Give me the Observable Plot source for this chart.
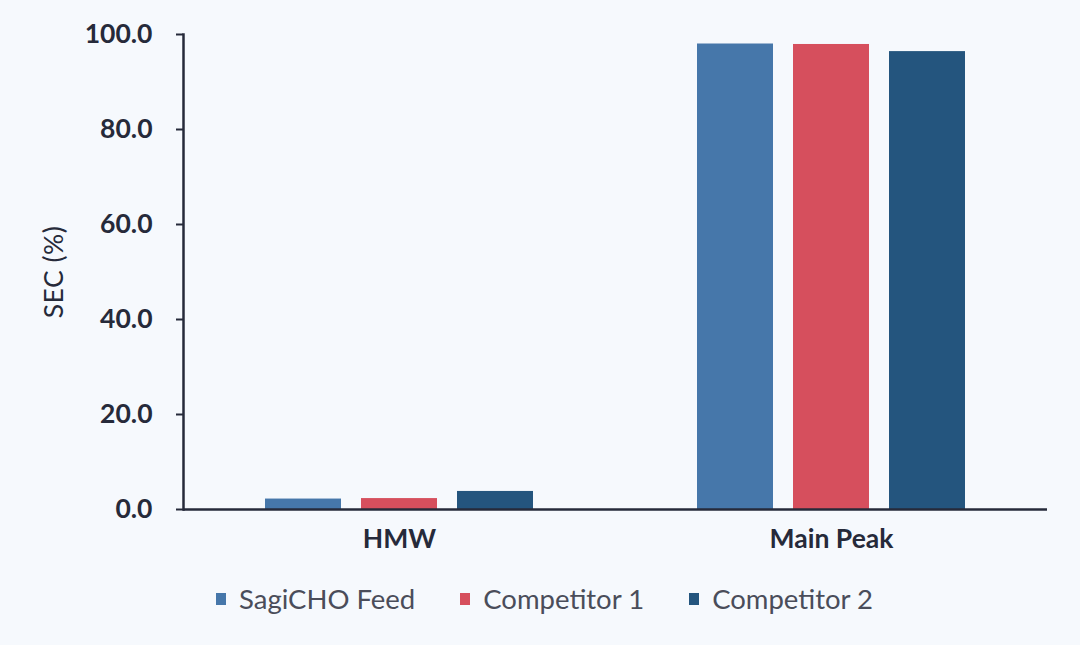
<!DOCTYPE html>
<html>
<head>
<meta charset="utf-8">
<script src="https://cdn.jsdelivr.net/npm/d3@7"></script>
<script src="https://cdn.jsdelivr.net/npm/@observablehq/plot@0.6"></script>
<style>
  html, body { margin: 0; padding: 0; background: #f6f9fd; }
  body { width: 1080px; height: 645px; overflow: hidden; font-family: Lato, "Open Sans", sans-serif; }
  #legend { display: flex; align-items: center; margin-top: 22px; padding-left: 216px; font-size: 27.5px; color: #4a4d5a; }
  .item { display: inline-flex; align-items: center; margin-right: 45px; }
  .sw { width: 10px; height: 12px; margin-right: 13px; display: inline-block; }
</style>
</head>
<body>
<div id="chart"></div>
<div id="legend"></div>
<script>
const categories = ["HMW", "Main Peak"];
const seriesNames = ["SagiCHO Feed", "Competitor 1", "Competitor 2"];
const seriesColors = ["#4677aa", "#d64f5d", "#24557e"];
const hmwValues = [2.2, 2.3, 3.8];
const mainPeakValues = [98.0, 97.9, 96.4];
const yTicks = [0, 20, 40, 60, 80, 100];

const valuesByCategory = [hmwValues, mainPeakValues];
const data = categories.flatMap((c, i) =>
  seriesNames.map((s, j) => ({category: c, series: s, value: valuesByCategory[i][j]}))
);

const ink = "#262a3a";
const plot = Plot.plot({
  width: 1080,
  height: 560,
  marginLeft: 183,
  marginRight: 33,
  marginTop: 34,
  marginBottom: 51,
  style: {background: "transparent", fontFamily: "Lato, 'Open Sans', sans-serif", color: ink},
  fx: {domain: categories, padding: 0, label: null},
  x: {domain: seriesNames, paddingInner: 0.208, paddingOuter: 0.85, axis: null},
  y: {domain: [0, 100]},
  color: {domain: seriesNames, range: seriesColors},
  marks: [
    Plot.barY(data, {fx: "category", x: "series", y: "value", fill: "series"}),
    Plot.ruleY([0], {stroke: ink, strokeWidth: 2.5}),
    Plot.frame({anchor: "left", fx: ["HMW"], stroke: ink, strokeWidth: 2.5}),
    Plot.axisY({
      ticks: yTicks, tickFormat: d3.format(".1f"), tickSize: 7, tickPadding: 24,
      fontSize: 26.5, fontWeight: "bold", stroke: ink, strokeWidth: 2,
      label: "SEC (%)", labelAnchor: "center", labelOffset: 139
    }),
    Plot.axisFx({anchor: "bottom", tickSize: 0, tickPadding: 20, fontSize: 26.5, fontWeight: "bold", label: null})
  ]
});
document.getElementById("chart").appendChild(plot);

// y label: normal weight, no arrow
plot.querySelectorAll("text").forEach(t => {
  if (t.textContent.startsWith("SEC (%)")) {
    t.textContent = "SEC (%)";
    t.setAttribute("font-weight", "normal");
    t.style.fontWeight = "normal";
    t.style.letterSpacing = "0.5px";
  }
});

const legend = document.getElementById("legend");
seriesNames.forEach((s, i) => {
  const item = document.createElement("span");
  item.className = "item";
  const sw = document.createElement("span");
  sw.className = "sw";
  sw.style.background = seriesColors[i];
  item.appendChild(sw);
  item.appendChild(document.createTextNode(s));
  legend.appendChild(item);
});
</script>
</body>
</html>
